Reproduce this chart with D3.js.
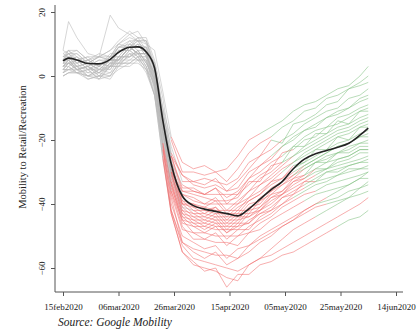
<!DOCTYPE html>
<html>
<head>
<meta charset="utf-8">
<script src="https://cdn.jsdelivr.net/npm/d3@7"></script>
<style>
  body { margin: 0; background: #fff; }
  svg { display: block; }
  text { font-family: "Liberation Serif", "Times New Roman", serif; fill: #222; }
</style>
</head>
<body>
<svg id="chart"></svg>
<script>
const width = 417, height = 333;

// sample dates shared by every series
const dates = ['2020-02-15','2020-02-17','2020-02-20','2020-02-24','2020-02-28','2020-03-03',
  '2020-03-06','2020-03-10','2020-03-13','2020-03-16','2020-03-19','2020-03-22','2020-03-25',
  '2020-03-29','2020-04-02','2020-04-06','2020-04-10','2020-04-14','2020-04-18','2020-04-22',
  '2020-04-26','2020-04-30','2020-05-04','2020-05-08','2020-05-12','2020-05-16','2020-05-20',
  '2020-05-24','2020-05-28','2020-06-01','2020-06-04'];

// national average (black line)
const meanValues = [4.7,5.6,5.0,3.9,3.8,5.2,7.4,9.0,9.1,7.5,2.5,-14,-27.5,-37.5,-40.5,-41.6,
  -42.3,-43,-43.7,-41.5,-38.5,-35.5,-33,-29,-26,-24.3,-23.3,-22.3,-21,-18.5,-16.3];

// one row per state
const stateSeries = [
  [6,7,5,6,6,19,15,13,14,10, 8,-5,-19,-27, -29,-28,-30,-29,-25, -20,-18,-16,-14,-11,-9,-8,-6,-4,-3,0,3],
  [5,8,6,4,6,8,10,9,12,11, 4,-10,-20,-30, -30,-31,-30,-33,-29, -24,-21,-19,-16,-14,-11,-10,-7,-6,-4,-2,0],
  [3,3,5,2,3,5,5,9,7,7, -1,-11,-25,-31, -33,-32,-33,-34,-32, -27,-25,-20,-21,-15,-14,-12,-9,-8,-4,-3,-2],
  [7,6,4,5,3,6,9,9,11,7, 4,-12,-22,-33, -33,-34,-32,-36,-33, -29,-25,-23,-20,-18,-15,-13,-11,-10,-7,-6,-4],
  [8,17,12,7,6,8,11,14,12,12, 5,-7,-24,-31, -34,-35,-34,-36,-35, -30,-28,-25,-22,-19,-17,-15,-13,-11,-10,-7,-6],
  [2,4,2,3,0,3,6,6,8,4, 1,-15,-25,-35, -35,-37,-35,-38,-36, -32,-28,-26,-22,-20,-17,-16,-13,-12,-10,-8,-7],
  [4,4,5,2,4,3,8,8,10,9, 3,-10,-27,-34, -36,-37,-37,-37,-37, -32,-30,-27,-25,-22,-19,-17,-16,-13,-12,-10,-9],
  [8,7,8,5,6,6,10,12,11,11, 3,-13,-25,-36, -36,-37,-35,-40,-37, -34,-31,-29,-24,-23,-20,-19,-16,-15,-13,-11,-10],
  [1,3,1,2,-1,3,3,7,5,5, -3,-15,-30,-36, -37,-38,-39,-39,-38, -33,-33,-28,-27,-22,-22,-18,-18,-14,-15,-11,-11],
  [5,5,6,3,5,5,9,9,11,7, 3,-14,-26,-37, -38,-40,-38,-42,-39, -36,-32,-30,-27,-25,-22,-20,-18,-16,-15,-13,-12],
  [3,5,2,3,1,4,5,9,7,7, 0,-13,-29,-37, -39,-40,-40,-40,-40, -36,-34,-31,-28,-25,-23,-21,-19,-17,-16,-14,-13],
  [6,6,7,4,6,5,9,10,12,8, 4,-14,-27,-39, -40,-41,-39,-43,-40, -38,-34,-32,-29,-27,-24,-22,-20,-18,-17,-15,-14],
  [4,6,3,4,2,5,5,9,7,7, -1,-14,-30,-38, -41,-41,-42,-42,-42, -38,-36,-33,-30,-27,-25,-23,-21,-19,-18,-16,-15],
  [2,2,3,0,2,2,6,6,8,4, -1,-18,-29,-40, -40,-42,-41,-44,-41, -39,-37,-33,-32,-28,-27,-23,-23,-19,-20,-16,-16],
  [5,7,4,5,3,6,6,10,9,9, 1,-13,-31,-39, -42,-42,-43,-43,-43, -39,-37,-34,-32,-29,-27,-25,-23,-21,-20,-18,-17],
  [7,8,8,5,7,6,10,13,11,11, 2,-14,-27,-40, -41,-43,-41,-45,-42, -42,-38,-36,-33,-31,-28,-26,-24,-22,-21,-19,-18],
  [3,5,2,3,1,5,5,9,7,7, 0,-15,-31,-40, -43,-43,-44,-44,-44, -40,-39,-35,-33,-30,-28,-26,-24,-22,-21,-19,-19],
  [0,1,2,-1,0,0,4,4,6,2, -2,-19,-30,-41, -42,-44,-42,-46,-43, -43,-39,-37,-34,-32,-29,-27,-25,-24,-22,-21,-20],
  [6,8,5,6,3,7,7,11,9,9, 2,-14,-32,-41, -44,-44,-45,-45,-45, -41,-40,-36,-34,-31,-29,-27,-26,-24,-23,-21,-21],
  [4,4,5,2,4,3,8,8,10,6, 1,-17,-30,-42, -43,-45,-43,-47,-44, -44,-41,-37,-36,-32,-31,-27,-27,-24,-24,-22,-22],
  [2,4,2,3,0,4,4,8,6,6, -3,-17,-33,-42, -45,-45,-46,-46,-46, -42,-41,-38,-36,-33,-31,-29,-27,-26,-25,-23,-23],
  [5,5,6,3,5,4,8,8,10,6, 1,-17,-30,-43, -44,-46,-44,-48,-45, -44,-42,-38,-37,-33,-32,-29,-29,-26,-25,-23,-23],
  [1,3,1,2,-1,3,3,7,5,5, -4,-18,-34,-43, -46,-46,-47,-47,-47, -43,-42,-39,-37,-34,-32,-30,-29,-27,-26,-24,-24],
  [6,7,7,4,6,5,9,11,11,10, 2,-17,-31,-44, -45,-47,-45,-49,-46, -46,-42,-40,-37,-35,-33,-31,-29,-28,-27,-26,-25],
  [3,4,4,1,3,2,6,6,8,4, -1,-20,-33,-45, -46,-48,-46,-49,-47, -46,-43,-41,-38,-36,-34,-32,-30,-29,-28,-27,-26],
  [4,6,3,4,2,5,5,9,7,7, -2,-17,-35,-44, -47,-47,-48,-48,-48, -45,-43,-42,-38,-37,-33,-33,-30,-30,-28,-27,-27],
  [2,2,3,0,2,1,5,5,7,3, -3,-21,-34,-46, -47,-49,-47,-51,-48, -48,-44,-42,-40,-37,-35,-33,-32,-31,-29,-29,-28],
  [5,7,4,5,3,6,6,10,8,8, 0,-18,-36,-45, -49,-49,-50,-50,-50, -47,-45,-43,-40,-38,-36,-34,-33,-31,-30,-29,-29],
  [0,1,1,-1,0,-1,3,3,5,1, -6,-21,-37,-48, -49,-51,-49,-53,-50, -49,-46,-44,-41,-39,-37,-36,-34,-33,-32,-31,-30],
  [3,5,2,3,1,4,4,8,6,6, -2,-22,-36,-47, -51,-51,-52,-52,-53, -49,-48,-45,-43,-41,-39,-37,-36,-35,-34,-32,-32],
  [1,2,2,0,1,0,4,4,6,2, -6,-22,-40,-50, -52,-54,-53,-57,-54, -53,-50,-48,-46,-44,-42,-40,-39,-38,-36,-35,-34],
  [4,5,3,4,2,5,5,9,7,7, -2,-23,-38,-52, -54,-55,-56,-56,-57, -53,-51,-49,-47,-45,-43,-41,-40,-39,-38,-37,-36],
  [2,4,2,1,1,3,4,6,7,3, -5,-23,-42,-53, -57,-58,-59,-60,-61, -59,-57,-56,-54,-52,-50,-48,-46,-44,-42,-40,-38],
  [0,1,1,0,-1,0,2,4,4,2, -6,-26,-43,-55, -58,-61,-60,-66,-62, -62,-59,-58,-56,-55,-53,-51,-49,-47,-45,-44,-42],
  [3,4,3,2,2,3,5,7,7,5, -4,-25,-43,-55, -59,-60,-61,-63,-64, -59,-57,-54,-51,-48,-46,-44,-42,-40,-38,-35,-33],
  [1,2,1,0,0,1,3,5,5,3, -6,-26,-42,-52, -55,-57,-55,-59,-57, -55,-52,-50,-47,-45,-42,-40,-38,-36,-34,-32,-30]
];
// index into dates where each state locks down / reopens (31 = never)
const lockdownIdx = [12,12,12,13,12,12,13,12,12,13,13,12,12,12,13,12,12,14,12,13,12,12,12,13,12,12,11,12,11,12,11,11,11,11,11,12];
const reopenIdx   = [20,21,21,22,21,22,22,23,22,22,23,23,22,23,23,24,23,24,23,24,24,25,24,25,24,25,24,23,25,24,25,26,31,27,25,26];

const xTicks = ['2020-02-15','2020-03-06','2020-03-26','2020-04-15','2020-05-05','2020-05-25','2020-06-14'];
const yTicks = [20, 0, -20, -40, -60];

const parse = d3.timeParse('%Y-%m-%d');
const fmt = d3.timeFormat('%d%b%Y');

const svg = d3.select('#chart').attr('width', width).attr('height', height);

const x = d3.scaleTime()
  .domain([parse('2020-02-15'), parse('2020-06-14')])
  .range([63, 396]);
const y = d3.scaleLinear().domain([-60, 20]).range([268, 12]);

const line = d3.line()
  .x(d => x(d.date))
  .y(d => y(d.value));

// Split each state into pre / lockdown / reopened pieces
const segs = [];
stateSeries.forEach((vals, s) => {
  const pts = vals.map((v, i) => ({ date: parse(dates[i]), value: v }));
  const L = lockdownIdx[s], R = Math.min(reopenIdx[s], pts.length - 1);
  segs.push({ phase: 'pre', pts: pts.slice(0, L + 1) });
  segs.push({ phase: 'lock', pts: pts.slice(L, R + 1) });
  if (reopenIdx[s] < pts.length - 1) segs.push({ phase: 'open', pts: pts.slice(R) });
});

const colors = { pre: 'rgb(185,185,185)', lock: 'rgb(240,105,105)', open: 'rgb(125,190,125)' };
const opac = { pre: 0.65, lock: 0.6, open: 0.6 };

['pre', 'lock', 'open'].forEach(ph => {
  svg.append('g')
    .selectAll('path')
    .data(segs.filter(d => d.phase === ph))
    .enter()
    .append('path')
    .attr('d', d => line(d.pts))
    .attr('fill', 'none')
    .attr('stroke', colors[ph])
    .attr('stroke-opacity', opac[ph])
    .attr('stroke-width', 0.9);
});

// average line
svg.append('path')
  .datum(meanValues.map((v, i) => ({ date: parse(dates[i]), value: v })))
  .attr('d', line.curve(d3.curveMonotoneX))
  .attr('fill', 'none')
  .attr('stroke', '#222')
  .attr('stroke-width', 1.6);

// Axes
const xAxis = svg.append('g')
  .attr('transform', 'translate(0,292)')
  .call(d3.axisBottom(x)
    .tickValues(xTicks.map(parse))
    .tickFormat(d => fmt(d).toLowerCase())
    .tickSize(4)
    .tickSizeOuter(0));
xAxis.select('.domain').attr('d', 'M55,0H403');
xAxis.selectAll('line, .domain').attr('stroke', '#555');
xAxis.selectAll('text')
  .attr('dy', '1.2em')
  .style('font-family', '"Liberation Serif", serif')
  .style('font-size', '9px')
  .attr('fill', '#222');

const yAxis = svg.append('g')
  .attr('transform', 'translate(55,0)')
  .call(d3.axisLeft(y).tickValues(yTicks).tickSize(4).tickSizeOuter(0));
yAxis.select('.domain').attr('d', 'M0,5V292');
yAxis.selectAll('line, .domain').attr('stroke', '#555');
yAxis.selectAll('text')
  .attr('x', 0).attr('y', 0).attr('dy', 0)
  .attr('transform', 'translate(-10,0) rotate(-90)')
  .attr('text-anchor', 'middle')
  .style('font-family', '"Liberation Serif", serif')
  .style('font-size', '9px')
  .attr('fill', '#222');

svg.append('text')
  .attr('transform', 'translate(26,147) rotate(-90)')
  .attr('text-anchor', 'middle')
  .style('font-size', '10.5px')
  .text('Mobility to Retail/Recreation');

svg.append('text')
  .attr('x', 58).attr('y', 326)
  .style('font-size', '11.5px')
  .style('font-style', 'italic')
  .text('Source: Google Mobility');
</script>
</body>
</html>
